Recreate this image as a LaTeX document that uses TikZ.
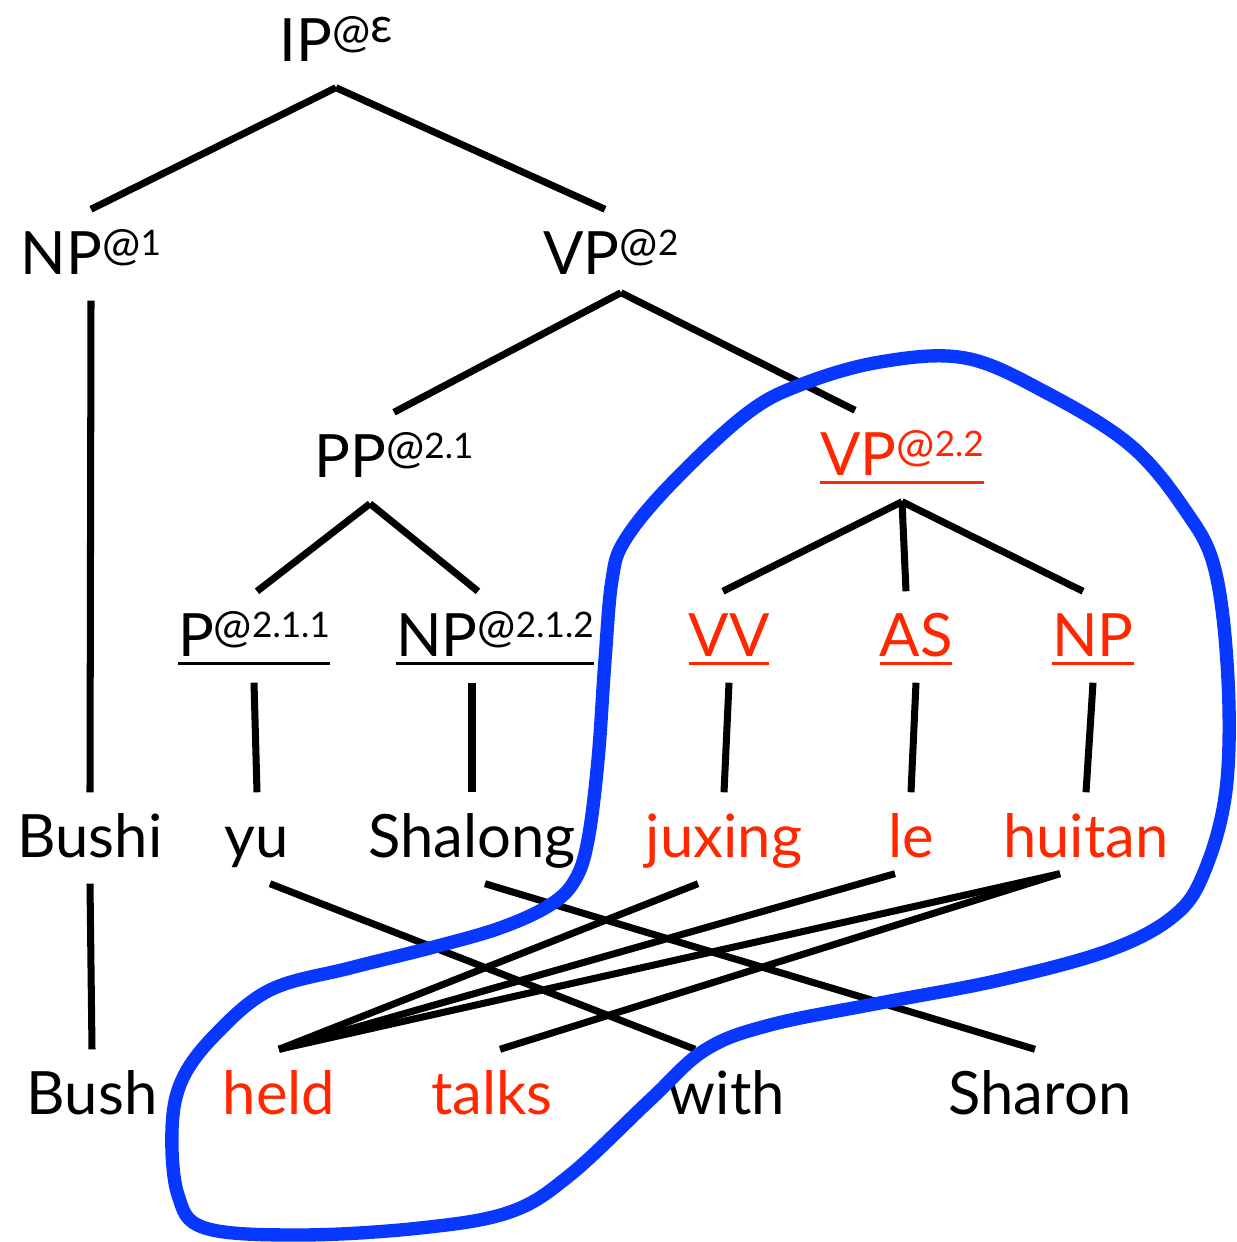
\documentclass[tikz,border=0pt]{standalone}
\usepackage{fontspec}
\setmainfont{Lato}
\definecolor{treered}{RGB}{255,38,0}
\definecolor{loopblue}{RGB}{8,56,255}
% raised Gorn address after a label
\newcommand\gorn[1]{\raisebox{4pt}{\fontsize{13}{13}\selectfont @\raisebox{1.5pt}{\fontsize{10}{10}\selectfont #1}}}
% label with a rule under it
\newsavebox\ulbox
\newcommand\ulbl[1]{\sbox\ulbox{#1}\rlap{\rule[-2.2pt]{\wd\ulbox}{0.9pt}}\usebox\ulbox}
\begin{document}
\begin{tikzpicture}[
    lbl/.style={font=\fontsize{17}{20}\selectfont, text height=0.45cm, text depth=0.05cm, inner xsep=0.05cm, inner ysep=0.2cm, anchor=base},
    hl/.style={lbl, text=treered},
    edge/.style={line width=2pt},
    loop/.style={loopblue, line width=3.8pt}
]
    \useasboundingbox (0,0) rectangle (12.36,12.42);

    % Tree nodes
    \node[lbl] (ip) at (3.36, 11.80) {IP\gorn{\fontsize{14}{14}\selectfont ε}};
    \node[lbl] (np1) at (0.91, 9.67) {NP\gorn{1}};
    \node[lbl] (vp2) at (6.11, 9.67) {VP\gorn{2}};
    \node[lbl] (pp21) at (3.94, 7.64) {PP\gorn{2.1}};
    \node[hl] (vp22) at (9.02, 7.66) {\ulbl{VP\gorn{2.2}}};
    \node[lbl] (p211) at (2.54, 5.85) {\ulbl{P\gorn{2.1.1}}};
    \node[lbl] (np212) at (4.95, 5.85) {\ulbl{NP\gorn{2.1.2}}};
    \node[hl] (vv) at (7.29, 5.85) {\ulbl{VV}};
    \node[hl] (as) at (9.16, 5.85) {\ulbl{AS}};
    \node[hl] (np) at (10.93, 5.85) {\ulbl{NP}};

    % Source words
    \node[lbl] (bushi) at (0.90, 3.84) {Bushi};
    \node[lbl] (yu) at (2.57, 3.84) {yu};
    \node[lbl] (shalong) at (4.72, 3.84) {Shalong};
    \node[hl] (juxing) at (7.24, 3.84) {juxing};
    \node[hl] (le) at (9.11, 3.84) {le};
    \node[hl] (huitan) at (10.86, 3.84) {huitan};

    % Target words
    \node[lbl] (bush) at (0.92, 1.27) {Bush};
    \node[hl] (held) at (2.79, 1.27) {held};
    \node[hl] (talks) at (4.92, 1.27) {talks};
    \node[lbl] (with) at (7.27, 1.27) {with};
    \node[lbl] (sharon) at (10.40, 1.27) {Sharon};

    % Tree edges
    \draw[edge] (ip.south) -- (np1.north);
    \draw[edge] (ip.south) -- ([xshift=-0.06cm]vp2.north);
    \draw[edge] (np1.south) -- (bushi.north);
    \draw[edge] ([xshift=0.1cm,yshift=0.08cm]vp2.south) -- (pp21.north);
    \draw[edge] ([xshift=0.1cm,yshift=0.08cm]vp2.south) -- ([xshift=-0.47cm]vp22.north);
    \draw[edge] ([xshift=-0.24cm]pp21.south) -- ([xshift=0.03cm]p211.north);
    \draw[edge] ([xshift=-0.24cm]pp21.south) -- ([xshift=-0.17cm]np212.north);
    \draw[edge] (vp22.south) -- ([xshift=-0.06cm]vv.north);
    \draw[edge] (vp22.south) -- ([xshift=-0.1cm]as.north);
    \draw[edge] (vp22.south) -- ([xshift=-0.1cm]np.north);
    \draw[edge] (p211.south) -- (yu.north);
    \draw[edge] (shalong.north |- np212.south) -- (shalong.north);
    \draw[edge] (vv.south) -- (juxing.north);
    \draw[edge] (as.south) -- (le.north);
    \draw[edge] (np.south) -- (huitan.north);

    % Word alignment
    \draw[edge] (bushi.south) -- (bush.north);
    \draw[edge] ([xshift=0.13cm]yu.south) -- ([xshift=-0.32cm]with.north);
    \draw[edge] ([xshift=0.13cm]shalong.south) -- ([xshift=-0.05cm]sharon.north);
    \draw[edge] ([xshift=-0.26cm]juxing.south) -- (held.north);
    \draw[edge] ([xshift=-0.16cm,yshift=0.1cm]le.south) -- (held.north);
    \draw[edge] ([xshift=-0.26cm,yshift=0.1cm]huitan.south) -- (held.north);
    \draw[edge] ([xshift=-0.26cm,yshift=0.1cm]huitan.south) -- ([xshift=0.08cm]talks.north);

    % Rule boundary
    \draw[loop] plot[smooth cycle, tension=0.6] coordinates {
        (9.65,8.84) (10.45,8.50) (11.30,7.97) (11.85,7.32) (12.15,6.72)
        (12.28,5.62) (12.26,4.52) (12.05,3.72) (11.75,3.27) (11.10,2.92)
        (10.00,2.62) (8.80,2.39) (7.70,2.17) (7.05,1.92) (6.50,1.42)
        (5.70,0.67) (5.10,0.30) (4.20,0.14) (3.00,0.07) (2.05,0.14)
        (1.78,0.47) (1.72,1.12) (1.82,1.62) (2.15,2.07) (2.70,2.52)
        (3.50,2.74) (4.30,2.94) (5.00,3.14) (5.50,3.37) (5.75,3.62)
        (5.88,4.02) (5.98,4.82) (6.05,5.82) (6.12,6.62) (6.25,7.02)
        (6.70,7.57) (7.45,8.27) (8.00,8.57) (8.80,8.80)};
\end{tikzpicture}
\end{document}
